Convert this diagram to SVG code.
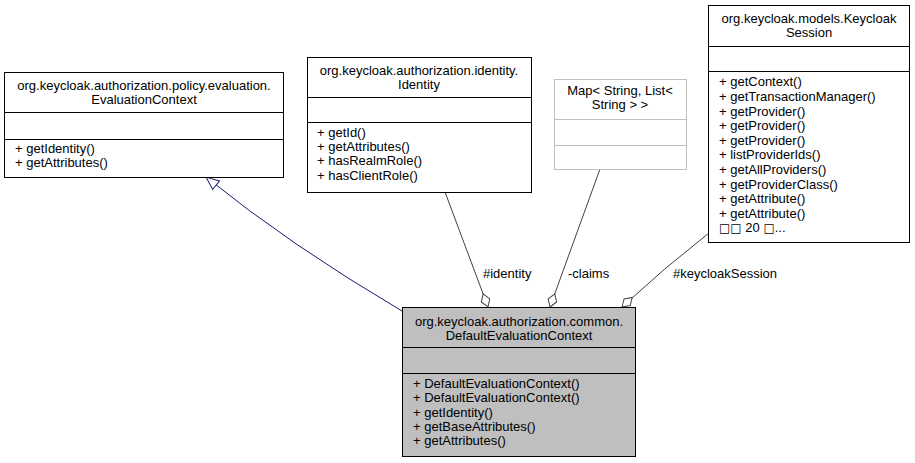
<svg xmlns="http://www.w3.org/2000/svg" width="915" height="463" viewBox="0 0 915 463">
<style>
  text { font-family: "Liberation Sans", Arial, sans-serif; font-size: 13px; fill: #000; }
  .c { text-anchor: middle; }
  .sq { font-family: "DejaVu Sans", sans-serif; font-size: 12px; }
  .box { fill: #fff; stroke: #000; stroke-width: 1; }
  .sel { fill: #bfbfbf; stroke: #000; stroke-width: 1; }
  .ext { fill: #fff; stroke: #bfbfbf; stroke-width: 1; }
  .div { stroke: #000; stroke-width: 1; }
  .divx { stroke: #bfbfbf; stroke-width: 1; }
  .inh { fill: none; stroke: #191970; stroke-width: 1; }
  .agg { fill: none; stroke: #404040; stroke-width: 1; }
</style>
<defs>
  <marker id="tri" viewBox="-15 -8 17 16" refX="0" refY="0" markerWidth="17" markerHeight="16" markerUnits="userSpaceOnUse" orient="auto">
    <path d="M0,0 L-13,-5.5 L-13,5.5 Z" fill="#fff" stroke="#191970" stroke-width="1"/>
  </marker>
  <marker id="dia" viewBox="-16 -7 18 14" refX="0" refY="0" markerWidth="18" markerHeight="14" markerUnits="userSpaceOnUse" orient="auto">
    <path d="M0,0 L-7,-4.5 L-14,0 L-7,4.5 Z" fill="#fff" stroke="#404040" stroke-width="1"/>
  </marker>
</defs>

<g id="connectors">
  <path class="inh" d="M402,311 Q290,245 206,177" marker-end="url(#tri)"/>
  <path class="agg" d="M445,192 L488,307" marker-end="url(#dia)"/>
  <path class="agg" d="M600,169 L550,307" marker-end="url(#dia)"/>
  <path class="agg" d="M709,233 Q664,268 622,307" marker-end="url(#dia)"/>
  <text x="483" y="278">#identity</text>
  <text x="568" y="278">-claims</text>
  <text x="673" y="278">#keycloakSession</text>
</g>

<g id="EvaluationContext">
  <rect class="box" x="4.5" y="72.5" width="279" height="105"/>
  <line class="div" x1="4.5" y1="112.5" x2="283.5" y2="112.5"/>
  <line class="div" x1="4.5" y1="139.5" x2="283.5" y2="139.5"/>
  <text class="c" x="144" y="90">org.keycloak.authorization.policy.evaluation.</text>
  <text class="c" x="144" y="104">EvaluationContext</text>
  <text x="15" y="153">+ getIdentity()</text>
  <text x="15" y="167">+ getAttributes()</text>
</g>

<g id="Identity">
  <rect class="box" x="307.5" y="57.5" width="224" height="135"/>
  <line class="div" x1="307.5" y1="97.5" x2="531.5" y2="97.5"/>
  <line class="div" x1="307.5" y1="122.5" x2="531.5" y2="122.5"/>
  <text class="c" x="419" y="75">org.keycloak.authorization.identity.</text>
  <text class="c" x="419" y="89">Identity</text>
  <text x="317" y="137">+ getId()</text>
  <text x="317" y="151">+ getAttributes()</text>
  <text x="317" y="165">+ hasRealmRole()</text>
  <text x="317" y="180">+ hasClientRole()</text>
</g>

<g id="MapClaims">
  <rect class="ext" x="554.5" y="79.5" width="132" height="90"/>
  <line class="divx" x1="554.5" y1="119.5" x2="686.5" y2="119.5"/>
  <line class="divx" x1="554.5" y1="145.5" x2="686.5" y2="145.5"/>
  <text class="c" x="620" y="95">Map&lt; String, List&lt;</text>
  <text class="c" x="620" y="109">String &gt; &gt;</text>
</g>

<g id="KeycloakSession">
  <rect class="box" x="708.5" y="5.5" width="201" height="237"/>
  <line class="div" x1="708.5" y1="46.5" x2="909.5" y2="46.5"/>
  <line class="div" x1="708.5" y1="71.5" x2="909.5" y2="71.5"/>
  <text class="c" x="809" y="23">org.keycloak.models.Keycloak</text>
  <text class="c" x="809" y="37">Session</text>
  <text x="719" y="86">+ getContext()</text>
  <text x="719" y="101">+ getTransactionManager()</text>
  <text x="719" y="115.5">+ getProvider()</text>
  <text x="719" y="130">+ getProvider()</text>
  <text x="719" y="144.5">+ getProvider()</text>
  <text x="719" y="159">+ listProviderIds()</text>
  <text x="719" y="174">+ getAllProviders()</text>
  <text x="719" y="188.5">+ getProviderClass()</text>
  <text x="719" y="203">+ getAttribute()</text>
  <text x="719" y="217.5">+ getAttribute()</text>
  <text x="719" y="232"><tspan class="sq">□□</tspan> 20 <tspan class="sq">□</tspan>...</text>
</g>

<g id="DefaultEvaluationContext">
  <rect class="sel" x="402.5" y="307.5" width="233" height="149"/>
  <line class="div" x1="402.5" y1="347.5" x2="635.5" y2="347.5"/>
  <line class="div" x1="402.5" y1="373.5" x2="635.5" y2="373.5"/>
  <text class="c" x="519" y="326">org.keycloak.authorization.common.</text>
  <text class="c" x="519" y="340">DefaultEvaluationContext</text>
  <text x="413" y="388">+ DefaultEvaluationContext()</text>
  <text x="413" y="402">+ DefaultEvaluationContext()</text>
  <text x="413" y="416.5">+ getIdentity()</text>
  <text x="413" y="431">+ getBaseAttributes()</text>
  <text x="413" y="445">+ getAttributes()</text>
</g>
</svg>
